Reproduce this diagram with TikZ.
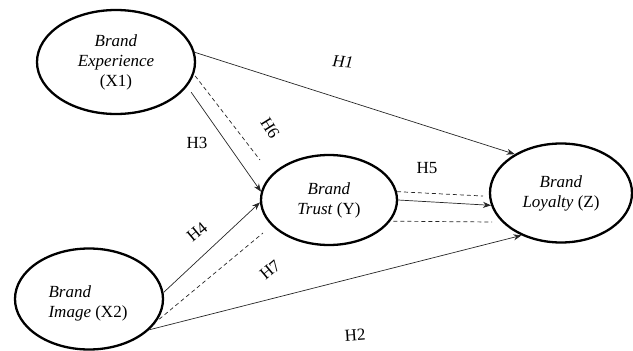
\documentclass[tikz,border=0pt]{standalone}
\usepackage{fontspec}
\setmainfont{Liberation Serif}
\usetikzlibrary{shapes.geometric,arrows.meta}
\begin{document}
\begin{tikzpicture}[x=1pt,y=-1pt,
  construct/.style={ellipse,draw=black,line width=2.3pt,inner sep=0pt,
    font=\fontsize{17}{20}\selectfont},
  arr/.style={draw=black!85,line width=0.7pt,-{Stealth[length=8pt,width=6pt]}},
  dsh/.style={draw=black!85,line width=0.7pt,dash pattern=on 4pt off 3pt},
  hlab/.style={font=\fontsize{17}{19}\selectfont,inner sep=0pt}]
\useasboundingbox (0,0) rectangle (633,351);
\clip (0,0) rectangle (633,351);
% constructs
\node[construct,minimum width=158pt,minimum height=104pt,align=center] (exp) at (116,62)
  {\textit{Brand}\\\textit{Experience}\\(X1)};
\node[construct,minimum width=148pt,minimum height=101pt] (img) at (89,299) {};
\node[align=left,font=\fontsize{17}{20}\selectfont,inner sep=0pt] (imgtxt) at (88,303)
  {\textit{Brand}\\\textit{Image} (X2)};
\node[construct,minimum width=136pt,minimum height=90pt,align=center] (trust) at (329,200)
  {\textit{Brand}\\\textit{Trust} (Y)};
\node[construct,minimum width=142pt,minimum height=99pt,align=center] (loyal) at (561,193)
  {\textit{Brand}\\\textit{Loyalty} (Z)};
% free ends of the dashed lines
\coordinate (h6end) at (260,160);
\coordinate (h7end) at (263,233);
\coordinate (h5aend) at (483,196);
\coordinate (h5bend) at (492,222);
% connectors
\draw[arr] (exp.7) -- (loyal.140);
\draw[arr,shorten <=7pt] (exp.-19.5) -- (trust.173);
\draw[dsh,shorten <=2pt] (exp.-9) -- (h6end);
\draw[arr] (img.5) -- (trust.182.5);
\draw[dsh,shorten <=3pt] (img.-18.4) -- (h7end);
\draw[arr] (img.-27.6) -- (loyal.227);
\draw[arr] (trust.0) -- (loyal.190);
\draw[dsh] (trust.7) -- (h5aend);
\draw[dsh,shorten <=3pt] (trust.-19) -- (h5bend);
% labels
\node[hlab,rotate=-5] (l1) at (343,62) {\textit{H1}};
\node[hlab,rotate=4] (l2) at (355,335) {H2};
\node[hlab] (l3) at (197,143) {H3};
\node[hlab,rotate=40] (l4) at (197,232) {H4};
\node[hlab] (l5) at (427,168) {H5};
\node[hlab,rotate=-58] (l6) at (270,128) {H6};
\node[hlab,rotate=40] (l7) at (270,270) {H7};
\end{tikzpicture}
\end{document}
